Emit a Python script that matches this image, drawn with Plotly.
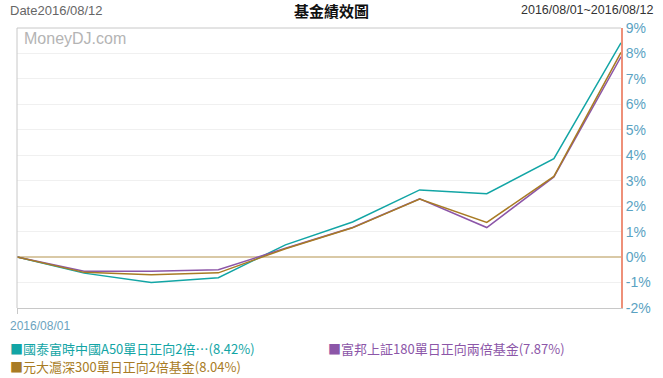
import plotly.graph_objects as go

dates = ["2016/08/01", "2016/08/02", "2016/08/03", "2016/08/04", "2016/08/05",
         "2016/08/08", "2016/08/09", "2016/08/10", "2016/08/11", "2016/08/12"]

names = ["國泰富時中國A50單日正向2倍…", "富邦上証180單日正向兩倍基金", "元大滬深300單日正向2倍基金"]
cathay = [0, -0.63, -1.00, -0.81, 0.48, 1.38, 2.64, 2.49, 3.87, 8.42]
fubon = [0, -0.56, -0.56, -0.50, 0.35, 1.16, 2.29, 1.16, 3.15, 7.87]
yuanta = [0, -0.60, -0.69, -0.62, 0.33, 1.15, 2.28, 1.36, 3.17, 8.04]
series = [cathay, fubon, yuanta]
colors = ["#12A5A5", "#8C56A8", "#A87B24"]

ytick_vals = list(range(-2, 10))
ytick_text = [f"{v}%" for v in ytick_vals]

fig = go.Figure()
for nm, vals, c in zip(names, series, colors):
    fig.add_trace(go.Scatter(x=list(range(len(dates))), y=vals, mode="lines",
                             line=dict(color=c, width=1.5), name=nm,
                             hovertext=dates, showlegend=False))

font_main = "Noto Sans CJK TC, Liberation Sans, Arial, sans-serif"

fig.update_layout(
    width=663, height=378,
    margin=dict(l=17, r=39, t=28, b=70),
    paper_bgcolor="white", plot_bgcolor="white",
    font=dict(family=font_main),
    xaxis=dict(range=[0, len(dates) - 1], showgrid=False, zeroline=False,
               showline=True, linecolor="#C8C8C8", linewidth=1,
               tickvals=[0], ticks="outside", ticklen=5, tickcolor="#C8C8C8",
               showticklabels=False),
    yaxis=dict(range=[-2, 9], side="right", tickvals=ytick_vals, ticktext=ytick_text,
               showgrid=True, gridcolor="#F0F0F0", gridwidth=1,
               zeroline=True, zerolinecolor="#D9C9A6", zerolinewidth=1.5,
               showline=True, linecolor="#EE9079", linewidth=2,
               tickfont=dict(family="Liberation Sans, Arial", size=14, color="#5AA2C2")),
)

# top and left borders
fig.add_shape(type="line", xref="paper", yref="paper", x0=0, x1=1, y0=1, y1=1,
              line=dict(color="#C8C8C8", width=1))
fig.add_shape(type="line", xref="paper", yref="paper", x0=0, x1=0, y0=0, y1=1,
              line=dict(color="#C8C8C8", width=1))

hy = 1 + 18 / 280
# header texts
fig.add_annotation(text="Date2016/08/12", xref="paper", yref="paper", x=-9/607, y=hy,
                   xanchor="left", yanchor="middle", showarrow=False,
                   font=dict(family="Liberation Sans, Arial", size=13, color="#666666"))
fig.add_annotation(text="<b>基金績效圖</b>", xref="paper", yref="paper", x=(333 - 17) / 607, y=hy,
                   xanchor="center", yanchor="middle", showarrow=False,
                   font=dict(family=font_main, size=15, color="#111111"))
fig.add_annotation(text=f"{dates[0]}~{dates[-1]}", xref="paper", yref="paper", x=(658 - 17) / 607,
                   y=hy, xanchor="right", yanchor="middle", showarrow=False,
                   font=dict(family="Liberation Sans, Arial", size=12.5, color="#333333"))
fig.add_annotation(text="MoneyDJ.com", xref="paper", yref="paper", x=5/607, y=1 - 11/280,
                   xanchor="left", yanchor="middle", showarrow=False,
                   font=dict(family="Liberation Sans, Arial", size=16, color="#B4B4B4"))
fig.add_annotation(text=dates[0], xref="paper", yref="paper", x=-9/607, y=-18/280,
                   xanchor="left", yanchor="middle", showarrow=False,
                   font=dict(family="Liberation Sans, Arial", size=12, color="#6BA3C0"))

# legend entries
legend_pos = [(8, 348.5), (328, 348.5), (8, 366.5)]
for nm, vals, c, (px, py) in zip(names, series, colors, legend_pos):
    fig.add_annotation(text=f"■{nm}({vals[-1]:.2f}%)", xref="paper", yref="paper",
                       x=(px - 17) / 607, y=(308 - py) / 280, xanchor="left", yanchor="middle",
                       showarrow=False, font=dict(family=font_main, size=13, color=c))

fig.write_html("out.html", post_script="document.body.style.margin='0';",
               config={"displayModeBar": False})
